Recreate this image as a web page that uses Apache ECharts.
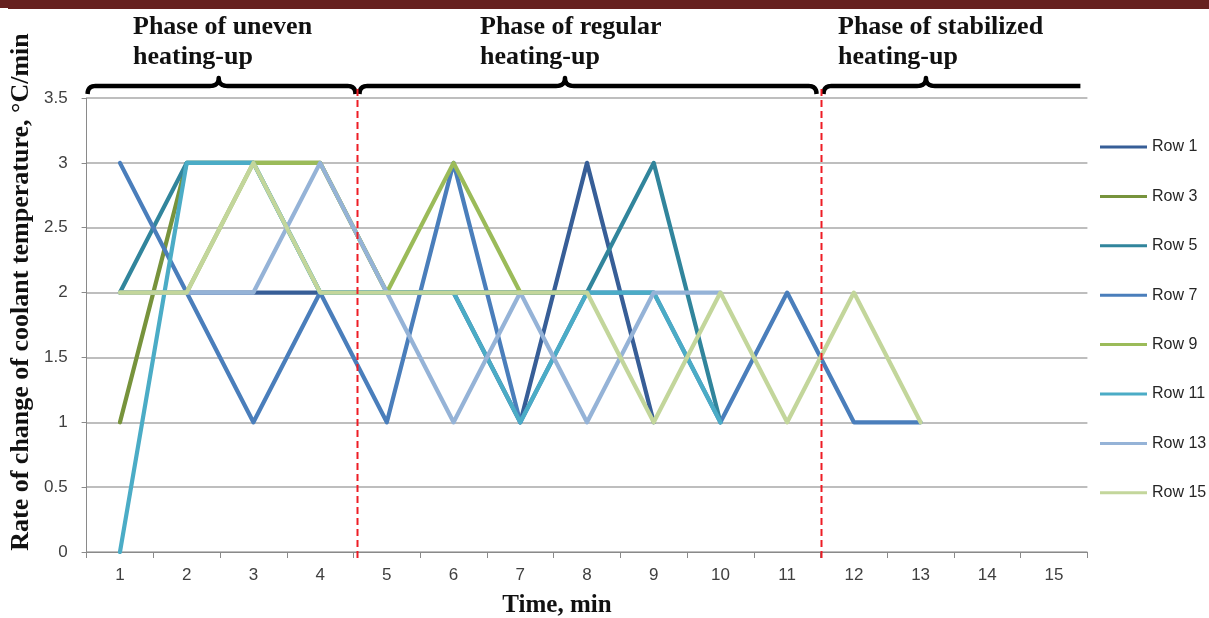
<!DOCTYPE html>
<html><head><meta charset="utf-8">
<script src="https://cdn.jsdelivr.net/npm/echarts@6/dist/echarts.min.js"></script>
<style>html,body{margin:0;padding:0;background:#fff}#c{width:1209px;height:618px}</style>
</head><body><div id="c"></div>
<script>
// ---- data ----
const categories = ['1','2','3','4','5','6','7','8','9','10','11','12','13','14','15'];
const seriesNames = ['Row 1','Row 3','Row 5','Row 7','Row 9','Row 11','Row 13','Row 15'];
const row1  = [2,2,2,2,2,2,1,3,1];
const row3  = [1,3,3,3,2,2,2,2];
const row5  = [2,3,3,2,2,2,2,2,3,1];
const row7  = [3,2,1,2,1,3,1,2,2,1,2,1,1];
const row9  = [2,2,3,3,2,3,2];
const row11 = [0,3,3,2,2,2,1,2,2,1];
const row13 = [2,2,2,3,2,1,2,1,2,2];
const row15 = [2,2,3,2,2,2,2,2,1,2,1,2,1];
const seriesValues = [row1,row3,row5,row7,row9,row11,row13,row15];
const seriesColors = ['#375E97','#77933C','#31859C','#4A7EBB','#9BBB59','#4BACC6','#95B3D7','#C3D69B'];
const phaseBoundaries = [4.56, 11.5];
const bracePeaks = [2.48, 7.67, 13.08];
const phaseLabels = ['Phase of uneven\nheating-up','Phase of regular\nheating-up','Phase of stabilized\nheating-up'];
const yTitle = 'Rate of change of coolant temperature, \u00B0C/min';
const xTitle = 'Time, min';

const chart = echarts.init(document.getElementById('c'), null, {renderer:'canvas'});
const axisGray = '#8a8a8a';
const option = {
  animation: false,
  backgroundColor: '#fff',
  grid: {left: 86.6, right: 121.6, top: 98, bottom: 66},
  xAxis: [{
    type: 'category', data: categories, boundaryGap: true,
    axisLine: {lineStyle: {color: axisGray, width: 1}},
    axisTick: {show: true, length: 6, interval: 0, lineStyle: {color: axisGray}},
    axisLabel: {interval: 0, margin: 15, fontSize: 17, color: '#404040', fontFamily: 'Liberation Sans'},
    splitLine: {show: false}
  }, {
    type: 'value', min: 0.5, max: 15.5, show: false
  }],
  yAxis: {
    type: 'value', min: 0, max: 3.5, interval: 0.5,
    axisLine: {show: true, lineStyle: {color: axisGray}},
    axisTick: {show: true, length: 5, lineStyle: {color: axisGray}},
    axisLabel: {margin: 19, fontSize: 17, color: '#404040', fontFamily: 'Liberation Sans'},
    splitLine: {show: true, lineStyle: {color: '#a8a8a8', width: 1.5}}
  },
  legend: {
    orient: 'vertical', left: 1100, top: 139, padding: 0,
    itemWidth: 47, itemHeight: 3, itemGap: 33.4,
    icon: 'rect',
    data: seriesNames,
    textStyle: {fontSize: 16, color: '#262626', fontFamily: 'Liberation Sans', lineHeight: 16}
  },
  series: seriesNames.map((n, i) => ({
    name: n, type: 'line', data: seriesValues[i], symbol: 'none',
    xAxisIndex: 0,
    lineStyle: {width: 4.2, color: seriesColors[i], cap: 'round', join: 'round'},
    itemStyle: {color: seriesColors[i]}
  }))
};
chart.setOption(option);

// ---- annotations tied to the x scale ----
const px = v => chart.convertToPixel({xAxisIndex: 1}, v);
const leftEdge = px(0.5), rightEdge = px(15.5);
const bTop = 86;
function quad(p0, c, p1, n) {
  const pts = [];
  for (let i = 0; i <= n; i++) {
    const t = i / n;
    pts.push([(1-t)*(1-t)*p0[0] + 2*(1-t)*t*c[0] + t*t*p1[0], (1-t)*(1-t)*p0[1] + 2*(1-t)*t*c[1] + t*t*p1[1]]);
  }
  return pts;
}
function bracePts(x0, xm, x1, y, curlRight) {
  let pts = [];
  pts = pts.concat(quad([x0, y + 8], [x0, y], [x0 + 8, y], 8));
  pts = pts.concat(quad([xm - 9, y], [xm, y], [xm, y - 8], 8));
  pts = pts.concat(quad([xm, y - 8], [xm, y], [xm + 9, y], 8));
  if (curlRight) pts = pts.concat(quad([x1 - 8, y], [x1, y], [x1, y + 8], 8));
  else pts.push([x1, y]);
  return pts;
}
const b0 = px(phaseBoundaries[0]), b1 = px(phaseBoundaries[1]);
const braceRanges = [
  [leftEdge + 1, px(bracePeaks[0]), b0 - 2, true],
  [b0 + 2, px(bracePeaks[1]), b1 - 4, true],
  [b1 + 3, px(bracePeaks[2]), rightEdge - 7, false]
];
const textX = [133, 480, 838];
const graphics = [
  {type: 'rect', shape: {x: 0, y: 0, width: 1209, height: 8}, style: {fill: '#66211F'}, z: 100},
  {type: 'rect', shape: {x: 8, y: 7, width: 1201, height: 2}, style: {fill: '#66211F'}, z: 100}
];
braceRanges.forEach(r => {
  graphics.push({type: 'polyline', shape: {points: bracePts(r[0], r[1], r[2], bTop, r[3])},
    style: {stroke: '#000', lineWidth: 4.5, fill: null, lineJoin: 'round'}, z: 100});
});
phaseBoundaries.forEach(v => {
  const x = Math.round(px(v)) + 0.5;
  graphics.push({type: 'line', shape: {x1: x, y1: 89, x2: x, y2: 558},
    style: {stroke: '#EE1C25', lineWidth: 2, lineDash: [7, 4]}, z: 100});
});
phaseLabels.forEach((t, i) => {
  graphics.push({type: 'text', x: textX[i], y: 12, z: 100,
    style: {text: t, font: 'bold 26px "Liberation Serif"', fill: '#111', lineHeight: 30, textAlign: 'left', textVerticalAlign: 'top'}});
});
graphics.push({type: 'text', x: 21, y: 292, rotation: Math.PI / 2, z: 100,
  style: {text: yTitle, font: 'bold 26px "Liberation Serif"', fill: '#111', textAlign: 'center', textVerticalAlign: 'middle'}});
graphics.push({type: 'text', x: 557, y: 606, z: 100,
  style: {text: xTitle, font: 'bold 25px "Liberation Serif"', fill: '#111', textAlign: 'center', textVerticalAlign: 'middle'}});
chart.setOption({graphic: graphics});
</script></body></html>
